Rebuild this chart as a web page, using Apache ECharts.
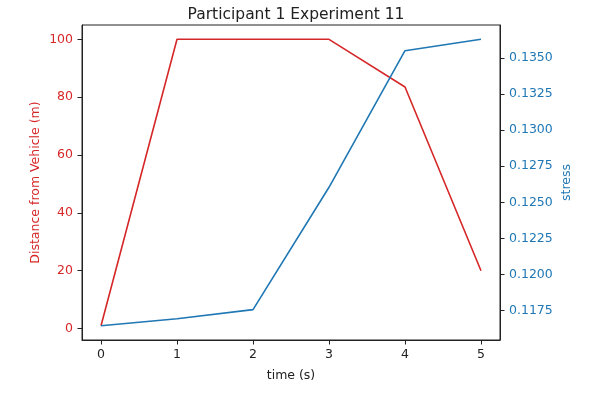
<!DOCTYPE html>
<html>
<head>
<meta charset="utf-8">
<script src="https://cdn.jsdelivr.net/npm/echarts@6/dist/echarts.min.js"></script>
<style>
  html, body { margin: 0; padding: 0; background: #fff; }
  #chart { width: 592px; height: 393px; }
</style>
</head>
<body>
<div id="chart"></div>
<script>
// time in seconds
const time = [0, 1, 2, 3, 4, 5];
const distance = [1, 100, 100, 100, 83.5, 20];
const stress = [0.11646, 0.11694, 0.11757, 0.12604, 0.13549, 0.13628];

const xTicks = [0, 1, 2, 3, 4, 5];
const distTicks = [0, 20, 40, 60, 80, 100];
const stressTicks = [0.1175, 0.12, 0.1225, 0.125, 0.1275, 0.13, 0.1325, 0.135];

const red = "#d62728";
const blue = "#1f77b4";
const font = "DejaVu Sans";
const fs = 12.5;

const chart = echarts.init(document.getElementById("chart"));

const line = { show: true, onZero: false, lineStyle: { color: "#222", width: 1 } };
const tick = (vals) => ({ show: true, length: 4.5, customValues: vals, lineStyle: { color: "#222" } });

// rotated axis titles, placed by hand like matplotlib's ylabel
const yTitle = (text, x, color) => ({
  type: "text",
  x: x,
  y: 182.5,
  rotation: Math.PI / 2,
  style: {
    text: text,
    fill: color,
    font: fs + "px '" + font + "'",
    align: "center",
    verticalAlign: "middle",
  },
});

chart.setOption({
  animation: false,
  title: {
    text: "Participant 1 Experiment 11",
    left: 291,
    top: 2,
    textAlign: "center",
    textStyle: { fontFamily: font, fontSize: 15.5, fontWeight: "normal", color: "#222" },
  },
  grid: {
    left: 82, right: 92, top: 25, bottom: 53,
    show: true, borderColor: "#222", borderWidth: 1,
  },
  graphic: [
    yTitle("Distance from Vehicle (m)", 36, red),
    yTitle("stress", 567, blue),
  ],
  xAxis: {
    type: "value",
    min: -0.25,
    max: 5.25,
    name: "time (s)",
    nameLocation: "middle",
    nameGap: 29,
    nameTextStyle: { fontFamily: font, fontSize: fs, color: "#222" },
    axisLine: line,
    axisTick: tick(xTicks),
    splitLine: { show: false },
    axisLabel: { customValues: xTicks, fontFamily: font, fontSize: fs, color: "#222", margin: 8 },
  },
  yAxis: [
    {
      type: "value",
      position: "left",
      min: -3.95,
      max: 104.95,
      axisLine: line,
      axisTick: tick(distTicks),
      splitLine: { show: false },
      axisLabel: { customValues: distTicks, fontFamily: font, fontSize: fs, color: red, margin: 9 },
    },
    {
      type: "value",
      position: "right",
      min: 0.11547,
      max: 0.13727,
      axisLine: line,
      axisTick: tick(stressTicks),
      splitLine: { show: false },
      axisLabel: {
        customValues: stressTicks,
        fontFamily: font, fontSize: fs, color: blue, margin: 9,
        formatter: (v) => v.toFixed(4),
      },
    },
  ],
  series: [
    {
      type: "line",
      yAxisIndex: 0,
      data: time.map((t, i) => [t, distance[i]]),
      showSymbol: false,
      lineStyle: { color: red, width: 1.6 },
      itemStyle: { color: red },
    },
    {
      type: "line",
      yAxisIndex: 1,
      data: time.map((t, i) => [t, stress[i]]),
      showSymbol: false,
      lineStyle: { color: blue, width: 1.6 },
      itemStyle: { color: blue },
    },
  ],
});
</script>
</body>
</html>
